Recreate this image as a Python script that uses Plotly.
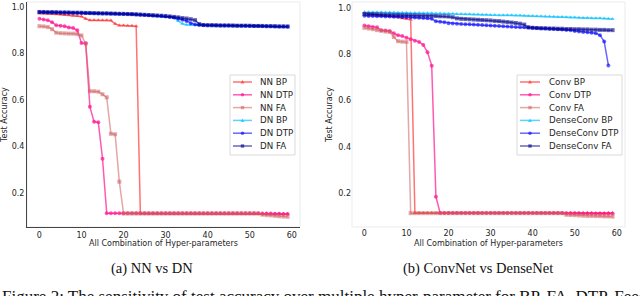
import plotly.graph_objects as go

# ---------------- data ----------------
COMBOS = list(range(60))
X_TICKS = [0, 10, 20, 30, 40, 50, 60]
Y_TICKS = [0.2, 0.4, 0.6, 0.8, 1.0]
Y_TICK_TEXT = ["0.2", "0.4", "0.6", "0.8", "1.0"]

NN_BP = [
    0.972, 0.972, 0.971, 0.970, 0.969, 0.968, 0.966, 0.965, 0.963, 0.962,
    0.960, 0.950, 0.944, 0.944, 0.944, 0.943, 0.943, 0.942, 0.928, 0.921,
    0.921, 0.920, 0.920, 0.918, 0.112, 0.112, 0.112, 0.112, 0.112, 0.112,
    0.112, 0.112, 0.112, 0.112, 0.112, 0.112, 0.112, 0.112, 0.112, 0.112,
    0.112, 0.112, 0.112, 0.112, 0.112, 0.112, 0.112, 0.112, 0.112, 0.112,
    0.112, 0.112, 0.112, 0.112, 0.112, 0.111, 0.111, 0.111, 0.110, 0.110]
NN_DTP = [
    0.950, 0.947, 0.943, 0.935, 0.922, 0.920, 0.918, 0.912, 0.910, 0.900,
    0.846, 0.845, 0.571, 0.507, 0.505, 0.348, 0.113, 0.113, 0.113, 0.113,
    0.113, 0.113, 0.113, 0.113, 0.113, 0.113, 0.113, 0.113, 0.113, 0.113,
    0.113, 0.113, 0.113, 0.113, 0.113, 0.113, 0.113, 0.113, 0.113, 0.113,
    0.113, 0.113, 0.113, 0.113, 0.113, 0.113, 0.113, 0.113, 0.113, 0.113,
    0.113, 0.113, 0.113, 0.112, 0.112, 0.112, 0.111, 0.111, 0.110, 0.110]
NN_FA = [
    0.918, 0.917, 0.914, 0.905, 0.890, 0.888, 0.887, 0.886, 0.886, 0.884,
    0.878, 0.843, 0.638, 0.638, 0.636, 0.625, 0.612, 0.455, 0.453, 0.249,
    0.112, 0.112, 0.112, 0.112, 0.112, 0.112, 0.112, 0.112, 0.112, 0.112,
    0.112, 0.112, 0.112, 0.112, 0.112, 0.112, 0.112, 0.112, 0.112, 0.112,
    0.112, 0.112, 0.112, 0.112, 0.112, 0.112, 0.112, 0.112, 0.112, 0.112,
    0.112, 0.112, 0.112, 0.107, 0.105, 0.104, 0.102, 0.100, 0.099, 0.098]
DN_BP = [
    0.978, 0.978, 0.977, 0.977, 0.977, 0.976, 0.976, 0.976, 0.975, 0.975,
    0.975, 0.974, 0.974, 0.973, 0.973, 0.972, 0.972, 0.971, 0.971, 0.970,
    0.970, 0.969, 0.968, 0.968, 0.967, 0.966, 0.965, 0.964, 0.963, 0.961,
    0.959, 0.957, 0.953, 0.940, 0.928, 0.924, 0.923, 0.923, 0.922, 0.922,
    0.922, 0.921, 0.921, 0.921, 0.921, 0.920, 0.920, 0.920, 0.920, 0.919,
    0.919, 0.919, 0.918, 0.918, 0.918, 0.917, 0.917, 0.916, 0.916, 0.915]
DN_DTP = [
    0.979, 0.978, 0.978, 0.978, 0.977, 0.977, 0.977, 0.976, 0.976, 0.976,
    0.975, 0.975, 0.974, 0.974, 0.973, 0.973, 0.972, 0.972, 0.971, 0.971,
    0.970, 0.970, 0.969, 0.968, 0.967, 0.966, 0.965, 0.964, 0.963, 0.962,
    0.960, 0.958, 0.955, 0.951, 0.946, 0.940, 0.931, 0.925, 0.923, 0.922,
    0.922, 0.922, 0.921, 0.921, 0.921, 0.921, 0.920, 0.920, 0.920, 0.920,
    0.919, 0.919, 0.919, 0.918, 0.918, 0.918, 0.917, 0.917, 0.917, 0.916]
DN_FA = [
    0.979, 0.979, 0.978, 0.978, 0.978, 0.977, 0.977, 0.977, 0.976, 0.976,
    0.976, 0.975, 0.975, 0.974, 0.974, 0.973, 0.973, 0.972, 0.972, 0.971,
    0.971, 0.970, 0.970, 0.969, 0.968, 0.967, 0.966, 0.965, 0.964, 0.963,
    0.962, 0.960, 0.958, 0.956, 0.953, 0.951, 0.948, 0.944, 0.927, 0.923,
    0.922, 0.922, 0.922, 0.921, 0.921, 0.921, 0.921, 0.920, 0.920, 0.920,
    0.920, 0.919, 0.919, 0.919, 0.918, 0.918, 0.918, 0.917, 0.917, 0.917]

CONV_BP = [
    0.980, 0.978, 0.976, 0.973, 0.970, 0.968, 0.966, 0.964, 0.962, 0.958,
    0.955, 0.952, 0.113, 0.113, 0.113, 0.113, 0.113, 0.113, 0.113, 0.113,
    0.113, 0.113, 0.113, 0.113, 0.113, 0.113, 0.113, 0.113, 0.113, 0.113,
    0.113, 0.113, 0.113, 0.113, 0.113, 0.113, 0.113, 0.113, 0.113, 0.113,
    0.113, 0.113, 0.113, 0.113, 0.113, 0.113, 0.113, 0.113, 0.113, 0.113,
    0.113, 0.113, 0.113, 0.113, 0.113, 0.113, 0.113, 0.113, 0.114, 0.114]
CONV_DTP = [
    0.926, 0.923, 0.920, 0.918, 0.906, 0.904, 0.902, 0.892, 0.884, 0.880,
    0.873, 0.866, 0.860, 0.855, 0.842, 0.810, 0.752, 0.183, 0.113, 0.113,
    0.113, 0.113, 0.113, 0.113, 0.113, 0.113, 0.113, 0.113, 0.113, 0.113,
    0.113, 0.113, 0.113, 0.113, 0.113, 0.113, 0.113, 0.113, 0.113, 0.113,
    0.113, 0.113, 0.113, 0.113, 0.113, 0.113, 0.113, 0.113, 0.112, 0.112,
    0.112, 0.112, 0.111, 0.111, 0.111, 0.110, 0.110, 0.110, 0.110, 0.110]
CONV_FA = [
    0.916, 0.913, 0.910, 0.906, 0.903, 0.900, 0.898, 0.876, 0.858, 0.856,
    0.855, 0.112, 0.112, 0.112, 0.112, 0.112, 0.112, 0.112, 0.112, 0.112,
    0.112, 0.112, 0.112, 0.112, 0.112, 0.112, 0.112, 0.112, 0.112, 0.112,
    0.112, 0.112, 0.112, 0.112, 0.112, 0.112, 0.112, 0.112, 0.112, 0.112,
    0.112, 0.112, 0.112, 0.112, 0.112, 0.112, 0.112, 0.112, 0.105, 0.104,
    0.103, 0.102, 0.101, 0.100, 0.100, 0.099, 0.099, 0.098, 0.098, 0.097]
DCONV_BP = [
    0.984, 0.984, 0.983, 0.983, 0.983, 0.982, 0.982, 0.982, 0.981, 0.981,
    0.981, 0.980, 0.980, 0.980, 0.979, 0.979, 0.979, 0.978, 0.978, 0.977,
    0.977, 0.977, 0.976, 0.976, 0.975, 0.975, 0.974, 0.974, 0.973, 0.973,
    0.972, 0.972, 0.971, 0.971, 0.970, 0.970, 0.969, 0.969, 0.968, 0.967,
    0.967, 0.966, 0.966, 0.965, 0.965, 0.964, 0.963, 0.963, 0.962, 0.961,
    0.961, 0.960, 0.959, 0.959, 0.958, 0.957, 0.957, 0.956, 0.955, 0.954]
DCONV_DTP = [
    0.968, 0.967, 0.967, 0.966, 0.966, 0.965, 0.965, 0.964, 0.964, 0.963,
    0.963, 0.962, 0.961, 0.960, 0.959, 0.957, 0.955, 0.944, 0.942, 0.940,
    0.936, 0.935, 0.934, 0.933, 0.932, 0.931, 0.930, 0.929, 0.928, 0.927,
    0.926, 0.925, 0.924, 0.923, 0.922, 0.921, 0.920, 0.919, 0.918, 0.917,
    0.916, 0.915, 0.914, 0.913, 0.912, 0.911, 0.910, 0.909, 0.907, 0.905,
    0.902, 0.900, 0.898, 0.897, 0.895, 0.892, 0.884, 0.857, 0.753]
DCONV_FA = [
    0.976, 0.975, 0.975, 0.974, 0.974, 0.973, 0.973, 0.972, 0.972, 0.971,
    0.971, 0.970, 0.970, 0.969, 0.969, 0.968, 0.968, 0.967, 0.966, 0.966,
    0.965, 0.962, 0.957, 0.955, 0.954, 0.953, 0.952, 0.951, 0.950, 0.949,
    0.948, 0.946, 0.945, 0.943, 0.941, 0.939, 0.937, 0.934, 0.930, 0.918,
    0.916, 0.915, 0.914, 0.914, 0.913, 0.913, 0.912, 0.912, 0.911, 0.911,
    0.910, 0.910, 0.909, 0.909, 0.908, 0.908, 0.907, 0.907, 0.906, 0.906]

LEFT_NAMES = ["NN BP", "NN DTP", "NN FA", "DN BP", "DN DTP", "DN FA"]
RIGHT_NAMES = ["Conv BP", "Conv DTP", "Conv FA", "DenseConv BP", "DenseConv DTP", "DenseConv FA"]
LEFT_VALUES = [NN_BP, NN_DTP, NN_FA, DN_BP, DN_DTP, DN_FA]
RIGHT_VALUES = [CONV_BP, CONV_DTP, CONV_FA, DCONV_BP, DCONV_DTP, DCONV_FA]

# ---------------- styles ----------------
COLORS = ["rgba(255,40,40,0.65)", "rgba(255,20,147,0.7)", "rgba(205,92,92,0.55)",
          "rgba(0,191,255,0.65)", "rgba(0,0,255,0.6)", "rgba(0,0,139,0.6)"]
SYMBOLS = ["triangle-up", "circle", "square", "triangle-up", "circle", "square"]
FONT = "DejaVu Sans"
SERIF = "Liberation Serif, Times New Roman, serif"
TXT = "#262626"

W, H = 640, 296


def px(x):
    return x / W


def py(y):
    return 1 - y / H


fig = go.Figure()

for vals_list, xa, ya in [(LEFT_VALUES, "x", "y"), (RIGHT_VALUES, "x2", "y2")]:
    for vals, color, sym in zip(vals_list, COLORS, SYMBOLS):
        fig.add_trace(go.Scatter(
            x=COMBOS[:len(vals)], y=vals, mode="lines+markers",
            line=dict(color=color, width=1.5),
            marker=dict(symbol=sym, size=4, color=color, line=dict(width=0)),
            showlegend=False, xaxis=xa, yaxis=ya, hoverinfo="skip"))

axis_common = dict(showgrid=False, zeroline=False, ticks="",
                   tickfont=dict(family=FONT, size=8, color=TXT))

fig.update_layout(
    width=W, height=H, margin=dict(l=0, r=0, t=0, b=0),
    paper_bgcolor="white", plot_bgcolor="white",
    xaxis=dict(domain=[px(27), px(300)], range=[-2.95, 61.95], anchor="y",
               tickvals=X_TICKS, showline=True, linecolor="#444", linewidth=1,
               **axis_common),
    yaxis=dict(domain=[py(227), py(2)], range=[0.054, 1.022], anchor="x",
               tickvals=Y_TICKS, ticktext=Y_TICK_TEXT, showline=True,
               linecolor="#444", linewidth=1, **axis_common),
    xaxis2=dict(domain=[px(352), px(625)], range=[-2.95, 61.95], anchor="y2",
                tickvals=X_TICKS, showline=False, **axis_common),
    yaxis2=dict(domain=[py(227), py(2)], range=[0.052, 1.028], anchor="x2",
                tickvals=Y_TICKS, ticktext=Y_TICK_TEXT, showline=False,
                **axis_common),
)

shapes = []
annotations = []
# light frames
for xr, yr in [("x domain", "y domain"), ("x2 domain", "y2 domain")]:
    shapes.append(dict(type="rect", xref=xr, yref=yr, x0=0, x1=1, y0=0, y1=1,
                       line=dict(color="#ebebeb", width=1), layer="below"))

# axis titles
for cx, cy in [(163.5, 243.5), (488.5, 243.5)]:
    annotations.append(dict(text="All Combination of Hyper-parameters", x=px(cx), y=py(cy),
                            xref="paper", yref="paper", showarrow=False,
                            xanchor="center", yanchor="middle",
                            font=dict(family=FONT, size=8, color=TXT)))
for cx in [5, 330]:
    annotations.append(dict(text="Test Accuracy", x=px(cx), y=py(115),
                            xref="paper", yref="paper", showarrow=False, textangle=-90,
                            xanchor="center", yanchor="middle",
                            font=dict(family=FONT, size=8, color=TXT)))

# manual legends
for names, bx0, bx1, lx0, lx1, tx in [(LEFT_NAMES, 230, 295, 233, 252, 258),
                                       (RIGHT_NAMES, 517, 622, 520, 540, 547)]:
    shapes.append(dict(type="rect", xref="paper", yref="paper",
                       x0=px(bx0), x1=px(bx1), y0=py(155), y1=py(75),
                       line=dict(color="#d9d9d9", width=1),
                       fillcolor="rgba(255,255,255,0.85)", layer="above"))
    for i, (name, color, sym) in enumerate(zip(names, COLORS, SYMBOLS)):
        yc = 82 + i * 12.8
        shapes.append(dict(type="line", xref="paper", yref="paper",
                           x0=px(lx0), x1=px(lx1), y0=py(yc), y1=py(yc),
                           line=dict(color=color, width=1.5), layer="above"))
        mx = (lx0 + lx1) / 2
        if sym == "circle":
            shapes.append(dict(type="circle", xref="paper", yref="paper",
                               x0=px(mx - 1.8), x1=px(mx + 1.8), y0=py(yc + 1.8), y1=py(yc - 1.8),
                               fillcolor=color, line=dict(width=0), layer="above"))
        elif sym == "square":
            shapes.append(dict(type="rect", xref="paper", yref="paper",
                               x0=px(mx - 1.7), x1=px(mx + 1.7), y0=py(yc + 1.7), y1=py(yc - 1.7),
                               fillcolor=color, line=dict(width=0), layer="above"))
        else:
            path = "M {:.5f},{:.5f} L {:.5f},{:.5f} L {:.5f},{:.5f} Z".format(
                px(mx - 2), py(yc + 1.5), px(mx + 2), py(yc + 1.5), px(mx), py(yc - 2))
            shapes.append(dict(type="path", xref="paper", yref="paper", path=path,
                               fillcolor=color, line=dict(width=0), layer="above"))
        annotations.append(dict(text=name, x=px(tx), y=py(yc), xref="paper", yref="paper",
                                showarrow=False, xanchor="left", yanchor="middle",
                                font=dict(family=FONT, size=8.7, color=TXT)))

# sub-captions and figure caption
annotations.append(dict(text="(a) NN vs DN", x=px(151.5), y=py(268), xref="paper", yref="paper",
                        showarrow=False, xanchor="center", yanchor="middle",
                        font=dict(family=SERIF, size=14.5, color="#111")))
annotations.append(dict(text="(b) ConvNet vs DenseNet", x=px(477.5), y=py(268), xref="paper",
                        yref="paper", showarrow=False, xanchor="center", yanchor="middle",
                        font=dict(family=SERIF, size=14.5, color="#111")))
annotations.append(dict(text="Figure 2: The sensitivity of test accuracy over multiple hyper-parameter for BP, FA, DTP, Feedback",
                        x=px(0), y=py(296), xref="paper", yref="paper",
                        showarrow=False, xanchor="left", yanchor="middle",
                        font=dict(family=SERIF, size=17, color="#111")))

fig.update_layout(shapes=shapes, annotations=annotations)
fig.write_html("out.html", config={"displayModeBar": False, "staticPlot": True},
               post_script="document.body.style.margin='0';document.body.style.overflow='hidden';")
